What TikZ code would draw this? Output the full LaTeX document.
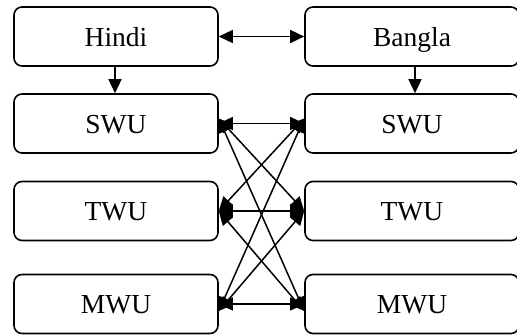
\documentclass[tikz,border=0pt]{standalone}
\usepackage{fontspec}
\setmainfont{Liberation Serif}
\usetikzlibrary{arrows.meta}
\begin{document}
\begin{tikzpicture}[x=1pt,y=-1pt,
  unitbox/.style={draw, line width=1.6pt, rounded corners=8pt, inner sep=0pt,
    minimum height=59pt, text height=19pt, text depth=0pt,
    font=\fontsize{27.5}{30}\selectfont},
  leftbox/.style={unitbox, minimum width=204pt},
  rightbox/.style={unitbox, minimum width=214pt},
  tip/.tip={Triangle[length=14pt,width=13pt]},
  link/.style={line width=1.5pt, tip-tip},
  down/.style={line width=1.5pt, -tip}]
\useasboundingbox (0,0) rectangle (517,335);
\begin{scope}
\clip (0,0) rectangle (517,335);
% language boxes
\node[leftbox]  (hindi)  at (116,36.5) {Hindi};
\node[rightbox] (bangla) at (412,36.5) {Bangla};
% word-unit boxes, Hindi side
\node[leftbox] (hswu) at (116,123.5) {SWU};
\node[leftbox] (htwu) at (116,211)   {TWU};
\node[leftbox] (hmwu) at (116,304)   {MWU};
% word-unit boxes, Bangla side
\node[rightbox] (bswu) at (412,123.5) {SWU};
\node[rightbox] (btwu) at (412,211)   {TWU};
\node[rightbox] (bmwu) at (412,304)   {MWU};
\end{scope}
% language link and splits
\draw[link] (hindi.east) -- (bangla.west);
\draw[down] ([xshift=-1pt]hindi.south) -- ([xshift=-1pt]hswu.north);
\draw[down] ([xshift=3pt]bangla.south) -- ([xshift=3pt]bswu.north);
% same-type links
\draw[link] (hswu.east) -- (bswu.west);
\draw[link] (htwu.east) -- (btwu.west);
\draw[link] (hmwu.east) -- (bmwu.west);
% cross-type links
\draw[link] ([yshift=5pt]hswu.east) -- (btwu.west);
\draw[link] ([yshift=5pt]hswu.east) -- ([yshift=-7pt]bmwu.west);
\draw[link] (htwu.east) -- ([yshift=5pt]bswu.west);
\draw[link] (htwu.east) -- ([yshift=-7pt]bmwu.west);
\draw[link] ([yshift=-7pt]hmwu.east) -- ([yshift=5pt]bswu.west);
\draw[link] ([yshift=-7pt]hmwu.east) -- (btwu.west);
\end{tikzpicture}
\end{document}
